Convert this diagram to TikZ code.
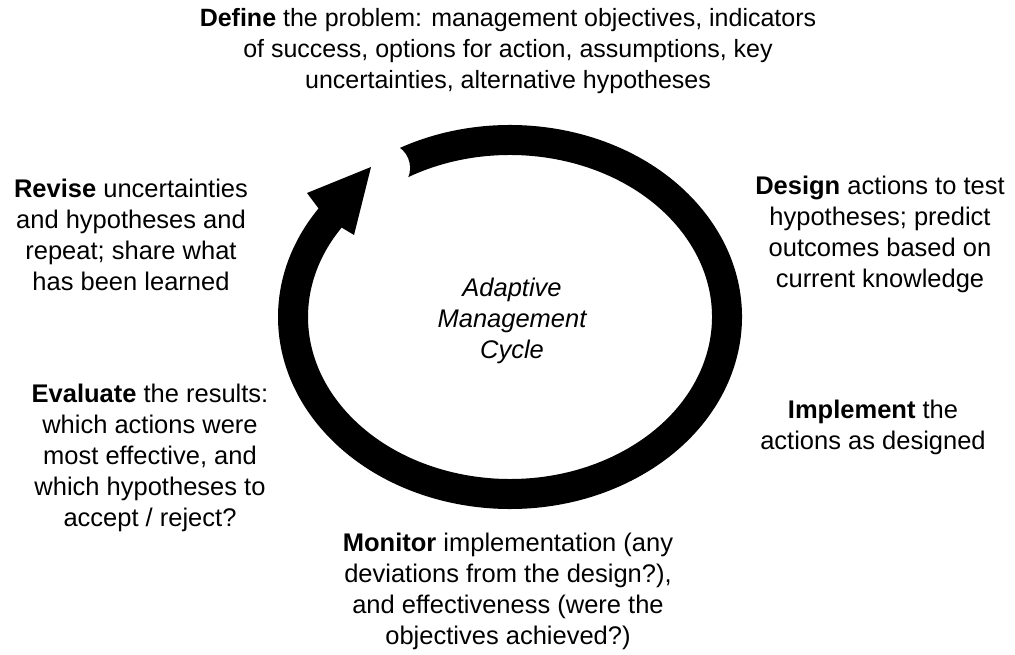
\documentclass[tikz,border=0pt]{standalone}
\usepackage{fontspec}
\setmainfont{Liberation Sans}
\usetikzlibrary{calc}
\begin{document}
\begin{tikzpicture}[x=1pt,y=1pt,
  lbl/.style={align=center,inner sep=0pt,font=\fontsize{25.5}{31}\selectfont}]
\useasboundingbox (0,0) rectangle (1015,654);
\coordinate (c) at (510,337);
% ring
\draw[line width=30pt] ($(c)+(125:217 and 177)$) arc[start angle=125,end angle=-215,x radius=217,y radius=177];
% tail cut
\fill[white] (385,486) circle[radius=25];
% arrow head
\coordinate (tip) at (371,487);
\coordinate (ob) at (307,461);
\coordinate (on) at (318.5,445.6);
\coordinate (in) at (341.7,426.4);
\coordinate (ib) at (354,419);
\fill (tip) -- (ob) -- (on) -- (in) -- (ib) -- cycle;
% labels
\node[lbl,font=\fontsize{25}{31}\selectfont] (define) at (508,603) {\textbf{Define} the problem: management objectives, indicators\\of success, options for action, assumptions, key\\uncertainties, alternative hypotheses};
\node[lbl] (revise) at (131,419.5) {\textbf{Revise} uncertainties\\and hypotheses and\\repeat; share what\\has been learned};
\node[lbl] (design) at (880,419.5) {\textbf{Design} actions to test\\hypotheses; predict\\outcomes based on\\current knowledge};
\node[lbl,font=\fontsize{25.5}{31}\selectfont\itshape] (cyc) at (512,333) {Adaptive\\Management\\Cycle};
\node[lbl] (evaluate) at (150,196.5) {\textbf{Evaluate} the results:\\which actions were\\most effective, and\\which hypotheses to\\accept / reject?};
\node[lbl] (implement) at (873,226.5) {\textbf{Implement} the\\actions as designed};
\node[lbl] (monitor) at (508,62.5) {\textbf{Monitor} implementation (any\\deviations from the design?),\\and effectiveness (were the\\objectives achieved?)};
\end{tikzpicture}
\end{document}
